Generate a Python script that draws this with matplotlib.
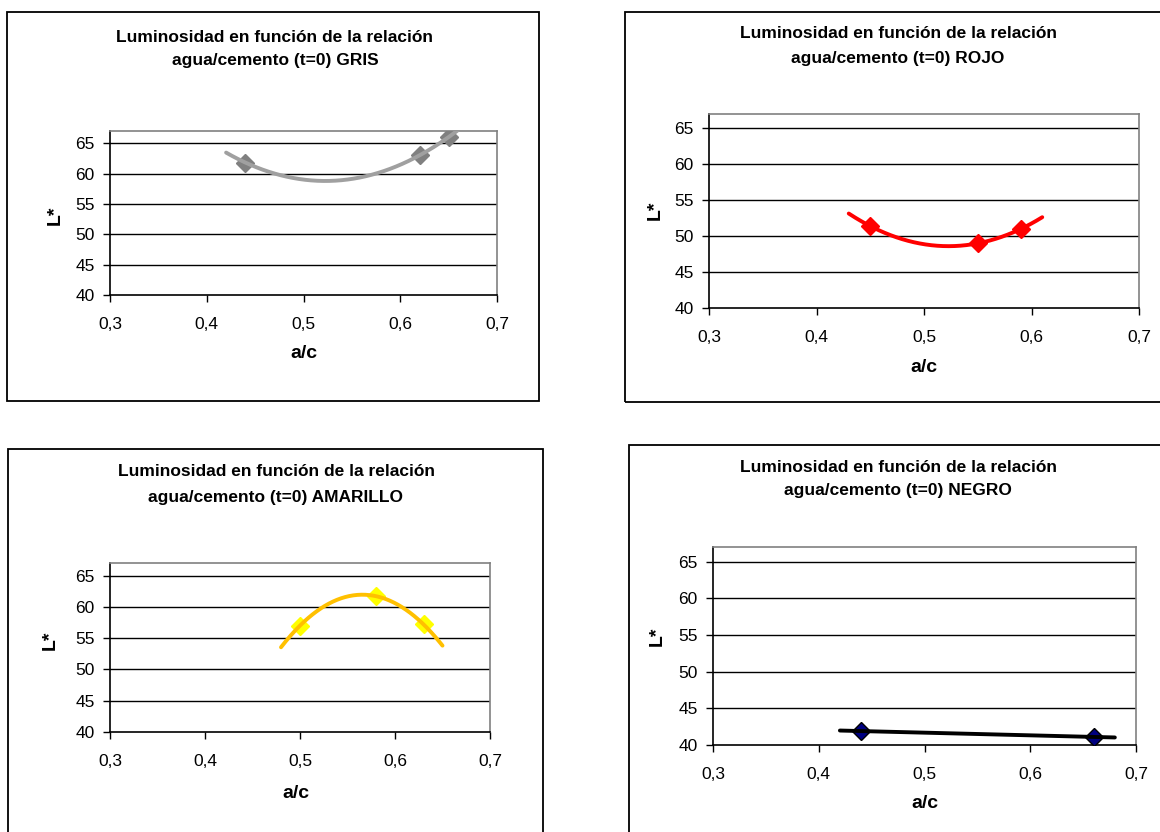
import numpy as np
import matplotlib
matplotlib.use("Agg")
import matplotlib.pyplot as plt
from matplotlib.patches import Rectangle

plt.rcParams['font.family'] = ['Liberation Sans', 'DejaVu Sans']

# data (a/c vs L*)
gris_x = [0.44, 0.62, 0.65]
gris_y = [61.8, 63.0, 66.0]
rojo_x = [0.45, 0.55, 0.59]
rojo_y = [51.4, 49.0, 51.0]
amarillo_x = [0.50, 0.58, 0.63]
amarillo_y = [57.0, 61.7, 57.2]
negro_x = [0.44, 0.66]
negro_y = [41.9, 41.1]

names = ['GRIS', 'ROJO', 'AMARILLO', 'NEGRO']
xticks = [0.3, 0.4, 0.5, 0.6, 0.7]
yticks = [40, 45, 50, 55, 60, 65]

W, H = 1160, 832
fig = plt.figure(figsize=(W / 100, H / 100), dpi=100)


def px_rect(x0, y0, x1, y1):
    return [x0 / W, 1 - y1 / H, (x1 - x0) / W, (y1 - y0) / H]


def fx(x):
    return x / W


def fy(y):
    return 1 - y / H


panels = [
    # box, axes, title centre (x, y1, y2), ylabel pos, xlabel pos, series
    dict(box=(7, 12, 539, 401), ax=(110, 131, 497, 295), title=(275, 37, 60),
         yl=(55, 215), xl=(304, 354), x=gris_x, y=gris_y, order=2,
         line='#a0a0a0', mk='#808080', mke='#808080', name=names[0]),
    dict(box=(625, 12, 1165, 402), ax=(709, 114, 1139, 308), title=(898, 34, 58),
         yl=(655, 210), xl=(924, 368), x=rojo_x, y=rojo_y, order=2,
         line='#ff0000', mk='#ff0000', mke='#ff0000', name=names[1]),
    dict(box=(8, 449, 543, 840), ax=(110, 563, 490, 732), title=(276, 472, 497),
         yl=(50, 640), xl=(296, 793), x=amarillo_x, y=amarillo_y, order=2,
         line='#ffc000', mk='#ffff00', mke='#ffff00', name=names[2]),
    dict(box=(629, 445, 1165, 840), ax=(713, 547, 1136, 745), title=(898, 468, 491),
         yl=(657, 636), xl=(925, 803), x=negro_x, y=negro_y, order=1,
         line='#000000', mk='#000080', mke='#000000', name=names[3]),
]

for p in panels:
    bx0, by0, bx1, by1 = p['box']
    fig.patches.append(Rectangle((fx(bx0), fy(by1)), (bx1 - bx0) / W, (by1 - by0) / H,
                                 transform=fig.transFigure, fill=False,
                                 edgecolor='black', linewidth=1.3))

    ax = fig.add_axes(px_rect(*p['ax']))
    ax.set_xlim(0.3, 0.7)
    ax.set_ylim(40, 67)
    ax.set_xticks(xticks)
    ax.set_yticks(yticks)
    ax.set_xticklabels([f'{t:.1f}'.replace('.', ',') for t in xticks])
    ax.set_yticklabels([str(t) for t in yticks])
    ax.tick_params(direction='out', length=5, width=1, labelsize=12.5,
                   colors='black', pad=6)
    ax.tick_params(axis='x', pad=11)
    for t in yticks[1:]:
        ax.axhline(t, color='black', linewidth=1, zorder=1)
    ax.spines['left'].set_color('black')
    ax.spines['bottom'].set_color('black')
    ax.spines['top'].set_color('#808080')
    ax.spines['right'].set_color('#808080')
    for s in ax.spines.values():
        s.set_linewidth(1.2)

    # markers
    ax.plot(p['x'], p['y'], linestyle='none', marker='D', markersize=9,
            markerfacecolor=p['mk'], markeredgecolor=p['mke'], zorder=3)
    # excel style trendline, extended 0.02 each side
    coef = np.polyfit(p['x'], p['y'], p['order'])
    xs = np.linspace(min(p['x']) - 0.02, max(p['x']) + 0.02, 200)
    ax.plot(xs, np.polyval(coef, xs), color=p['line'], linewidth=2.8,
            solid_capstyle='round', zorder=4)

    tx, ty1, ty2 = p['title']
    fig.text(fx(tx), fy(ty1), 'Luminosidad en función de la relación',
             ha='center', va='center', fontsize=12.5, fontweight='bold')
    fig.text(fx(tx), fy(ty2), f'agua/cemento (t=0) {p["name"]}',
             ha='center', va='center', fontsize=12.5, fontweight='bold')
    fig.text(fx(p['yl'][0]), fy(p['yl'][1]), 'L*', rotation=90,
             ha='center', va='center', fontsize=14, fontweight='bold')
    fig.text(fx(p['xl'][0]), fy(p['xl'][1]), 'a/c',
             ha='center', va='center', fontsize=14, fontweight='bold')

fig.savefig('out.png', dpi=100, facecolor='white')
